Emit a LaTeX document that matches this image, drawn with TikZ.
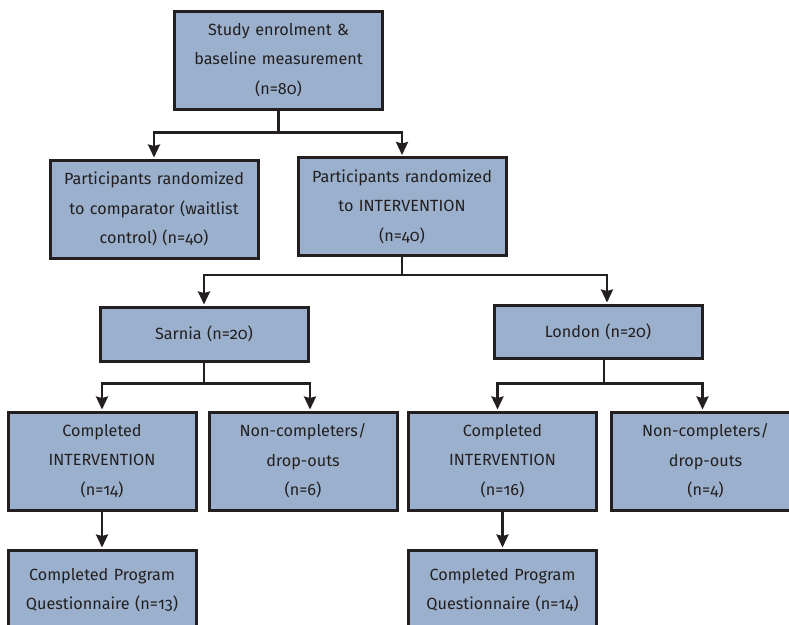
\documentclass[tikz,border=0pt]{standalone}
\usepackage{fontspec}
\setmainfont{Fira Sans}[Numbers=OldStyle]
\usepackage{tikz}
\usetikzlibrary{arrows.meta, positioning, calc}
\definecolor{boxfill}{RGB}{154,176,204}
\definecolor{boxline}{RGB}{35,31,32}

\begin{document}
\begin{tikzpicture}[x=1pt,y=1pt,->,>={Stealth[length=13pt,width=12pt,inset=1.5pt]},
  shorten >=1pt, line width=2.4pt, draw=boxline, text=boxline, node distance=37pt,
  big node/.style={rectangle,draw=boxline,fill=boxfill,line width=3pt,minimum width=208pt,
    minimum height=98pt,text width=200pt,align=center,inner sep=0pt,
    font=\fontsize{16.2}{29.5}\selectfont},
  small node/.style={big node,minimum width=188pt,text width=182pt}]
  \useasboundingbox (0,0) rectangle (789,-624);
  \clip (0,0) rectangle (789,-624);
  % top levels
  \node[big node] (study) at (278.5,-60) {Study enrolment \&\\baseline measurement\\(n=80)};
  \node[big node] (waitlist) at (154,-209) {Participants randomized\\to comparator (waitlist\\control) (n=40)};
  \node[big node] (interv) at (402,-206.5) {Participants randomized\\to INTERVENTION\\(n=40)};
  \node[big node, minimum height=54pt] (sarnia) at (204,-334) {Sarnia (n=20)};
  \node[big node, minimum height=53pt] (london) at (598,-331.5) {London (n=20)};
  % sites
  \node[small node] (compS) at (102,-461) {Completed\\INTERVENTION\\(n=14)};
  \node[small node, right=10pt of compS] (dropS) {Non-completers/\\drop-outs\\(n=6)};
  \node[small node] (compL) at (502.5,-461) {Completed\\INTERVENTION\\(n=16)};
  \node[small node, right=12pt of compL] (dropL) {Non-completers/\\drop-outs\\(n=4)};
  \node[small node, minimum height=80pt, below=of compS] (progS) {Completed Program\\Questionnaire (n=13)};
  \node[small node, minimum height=80pt, below=of compL] (progL) {Completed Program\\Questionnaire (n=14)};
  % connectors
  \draw (study.south) -- ++(0,-22) -| (waitlist.north);
  \draw (study.south) -- ++(0,-22) -| (interv.north);
  \draw (interv.south) -- ++(0,-18) -| (sarnia.north);
  \draw (interv.south) -- ++(0,-18) -| ([xshift=9pt]london.north);
  \draw (sarnia.south) -- ++(0,-21) -| (compS.north);
  \draw (sarnia.south) -- ++(0,-21) -| ([xshift=7pt]dropS.north);
  \draw ([xshift=6pt]london.south) -- ++(0,-24) -| ([xshift=-5pt]compL.north);
  \draw ([xshift=6pt]london.south) -- ++(0,-24) -| ([xshift=-3pt]dropL.north);
  \draw (compS) -- (progS);
  \draw (compL) -- (progL);
\end{tikzpicture}
\end{document}
